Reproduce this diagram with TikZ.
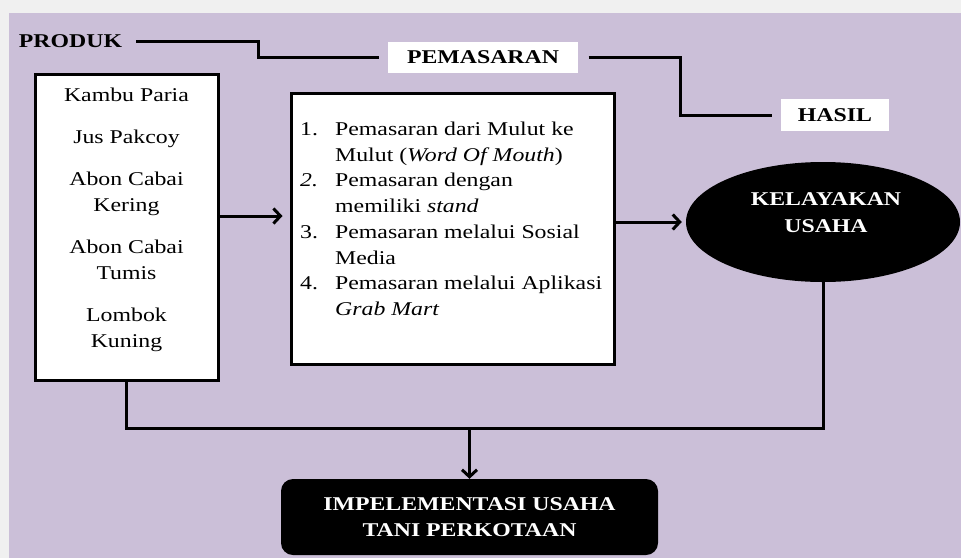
\documentclass[tikz,border=0pt]{standalone}
\usepackage{fontspec}
\setmainfont{Liberation Serif}[FakeStretch=1.22]
\usetikzlibrary{shapes.geometric,arrows.meta}
\definecolor{bgpurple}{HTML}{CBBFD8}
\definecolor{bggray}{HTML}{F0F0F0}
\begin{document}
\begin{tikzpicture}[x=1pt,y=-1pt,
  txt/.style={font=\fontsize{19.5}{25.7}\selectfont},
  bold/.style={font=\fontsize{19.5}{25.5}\selectfont\bfseries},
  box/.style={draw=black, line width=3pt, fill=white, inner sep=0pt},
  conn/.style={line width=3pt, draw=black},
  arr/.style={conn, -{Straight Barb[length=7pt,width=15pt]}}]
\fill[bggray] (0,0) rectangle (961,558);
\fill[bgpurple] (9,13) rectangle (961,558);
\useasboundingbox (0,0) rectangle (961,558);

% top labels
\node[bold, inner sep=0pt] (produk) at (70.5,41) {PRODUK};
\node[box, draw=none, minimum width=190pt, minimum height=31pt, bold] (pem) at (483,57.5) {PEMASARAN};
\node[box, draw=none, minimum width=108pt, minimum height=32pt, bold] (hasil) at (835,115) {HASIL};

% product box
\node[box, minimum width=183pt, minimum height=306pt] (prod) at (126.5,227) {};
\node[txt, align=center, inner sep=0pt] (prodtext) at (126.5,219.5)
  {Kambu Paria\\[16.5pt] Jus Pakcoy\\[16.5pt] Abon Cabai\\ Kering\\[16.5pt] Abon Cabai\\ Tumis\\[16.5pt] Lombok\\ Kuning};

% marketing box
\node[box, minimum width=323pt, minimum height=271pt] (mid) at (452.5,228.5) {};
\node[txt, anchor=west, inner sep=0pt] (midtext) at (300,220.4)
  {\begin{tabular}{@{}p{35pt}@{}l@{}}
  1. & Pemasaran dari Mulut ke\\
     & Mulut (\textit{Word Of Mouth})\\
  \textit{2.} & Pemasaran dengan\\
     & memiliki \textit{stand}\\
  3. & Pemasaran melalui Sosial\\
     & Media\\
  4. & Pemasaran melalui Aplikasi\\
     & \textit{Grab Mart}
  \end{tabular}};

% ellipse
\node[ellipse, fill=black, minimum width=274pt, minimum height=120pt, inner sep=0pt] (kel) at (823,222) {};
\node[bold, text=white, align=center, inner sep=0pt] (keltext) at (826,212.5) {KELAYAKAN\\[1.5pt]USAHA};

% result box
\node[fill=black, rounded corners=12pt, minimum width=377pt, minimum height=76pt,
      bold, text=white, align=center] (impl) at (469.5,517) {IMPELEMENTASI USAHA\\TANI PERKOTAAN};

% connectors
\coordinate (c1) at (258,50);
\coordinate (c2) at (680,80);
\coordinate (r1) at (0,216);
\coordinate (j) at (469.5,428);
\draw[conn, shorten <=14pt, shorten >=8pt] (produk.east) -| (c1) |- (pem.west);
\draw[conn, shorten <=9pt, shorten >=8pt] (pem.east) -| (c2) |- (hasil.west);
\draw[arr, shorten >=7pt] (prod.east |- r1) -- (mid.west |- r1);
\draw[arr, shorten >=4pt] (mid.east |- kel.west) -- (kel.west);
\draw[conn] (prod.south) |- (j) -| (kel.south);
\draw[arr] (j) -- (impl.north);
\end{tikzpicture}
\end{document}
